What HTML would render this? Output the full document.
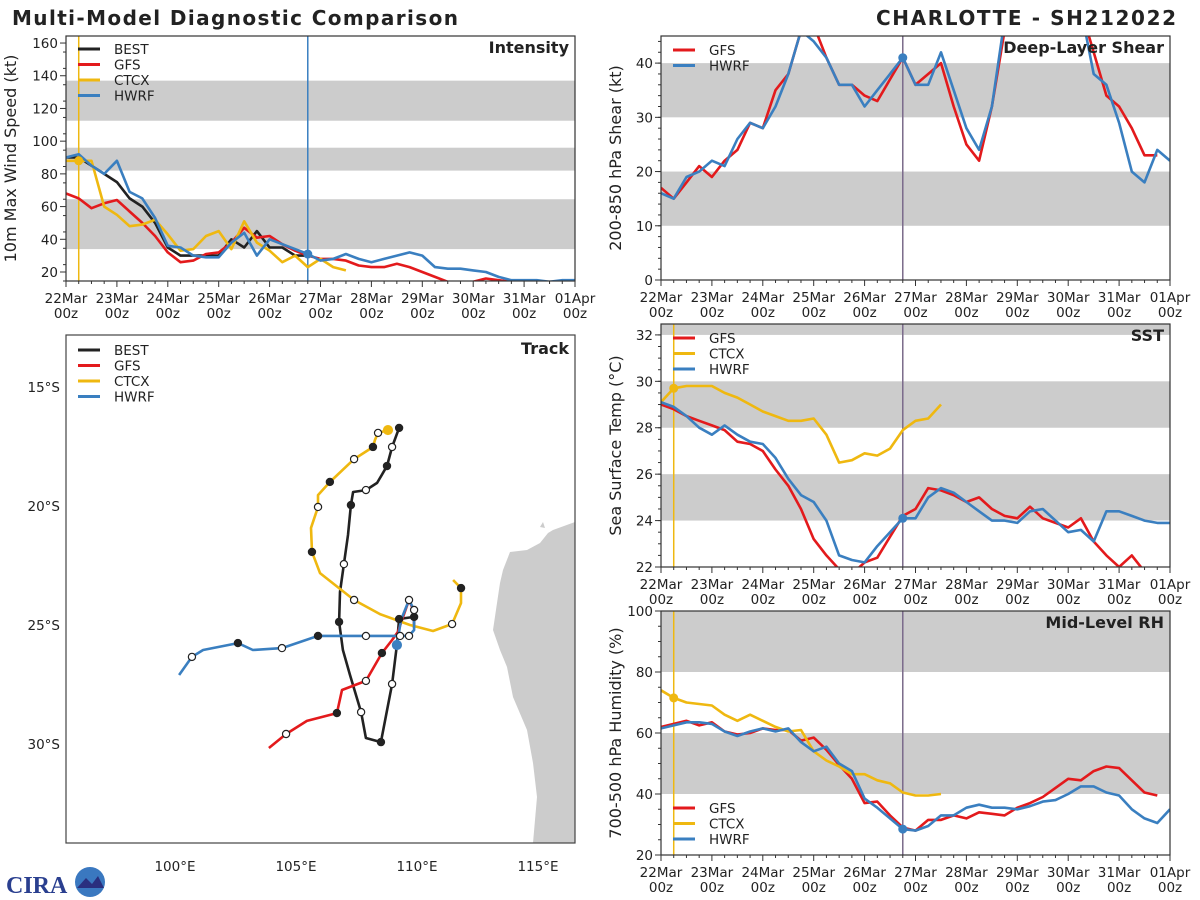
<!DOCTYPE html>
<html><head><meta charset="utf-8"><style>
html,body{margin:0;padding:0;background:#fff;}
svg{display:block;font-family:"DejaVu Sans","Liberation Sans",sans-serif;}
</style></head><body>
<svg id="chart" width="1200" height="900" viewBox="0 0 1200 900" xmlns="http://www.w3.org/2000/svg">
<text x="12" y="25" font-size="20" font-weight="bold" fill="#222" textLength="446">Multi-Model Diagnostic Comparison</text>
<text x="1176" y="25" font-size="20" font-weight="bold" fill="#222" text-anchor="end" textLength="300">CHARLOTTE - SH212022</text>
<g id="logo">
<text x="6" y="893" font-size="24" font-weight="bold" fill="#2a3f8f" font-family="Liberation Serif,serif">CIRA</text>
<circle cx="90" cy="882" r="15" fill="#3a78c0"/><path d="M77 888 L86 878 L92 884 L98 876 L104 888 Z" fill="#2a2f7f"/>
</g>
</svg>
<script>
// ---------- DATA ----------
const dayLabels = ["22Mar","23Mar","24Mar","25Mar","26Mar","27Mar","28Mar","29Mar","30Mar","31Mar","01Apr"];
const intBest = [90,90,85,80,75,65,60,50,35,30,30,30,30,40,35,45,35,35,30,30];
const intGfs = [68,65,59,62,64,57,50,42,32,26,27,31,32,38,47,41,42,37,33,30,28,28,27,24,23,23,25,23,20,17,14,14,14,16,15,14,14,13];
const intCtcx = [88,88,88,60,55,48,49,52,43,33,34,42,45,34,51,38,33,26,30,23,28,23,21];
const intHwrf = [90,92,85,80,88,69,65,53,36,35,30,29,29,38,44,30,40,37,34,31,27,28,31,28,26,28,30,32,30,23,22,22,21,20,17,15,15,15,14,15,15];
const shrGfs = [17,15,18,21,19,22,24,29,28,35,38,46,47,41,36,36,34,33,37,41,36,38,40,32,25,22,32,46,50,50,50,50,50,50,42,34,32,28,23,23];
const shrHwrf = [16,15,19,20,22,21,26,29,28,32,38,46,44,41,36,36,32,35,38,41,36,36,42,35,28,24,32,48,50,50,50,50,50,50,38,36,29,20,18,24,22];
const sstGfs = [29.0,28.8,28.5,28.3,28.1,27.9,27.4,27.3,27.0,26.2,25.5,24.5,23.2,22.5,21.9,21.7,22.2,22.4,23.3,24.2,24.5,25.4,25.3,25.1,24.8,25.0,24.5,24.2,24.1,24.6,24.1,23.9,23.7,24.1,23.1,22.5,22.0,22.5,21.8];
const sstCtcx = [29.1,29.7,29.8,29.8,29.8,29.5,29.3,29.0,28.7,28.5,28.3,28.3,28.4,27.7,26.5,26.6,26.9,26.8,27.1,27.9,28.3,28.4,29.0];
const sstHwrf = [29.1,28.9,28.5,28.0,27.7,28.1,27.7,27.4,27.3,26.7,25.8,25.1,24.8,24.0,22.5,22.3,22.2,22.9,23.5,24.1,24.1,25.0,25.4,25.2,24.8,24.4,24.0,24.0,23.9,24.4,24.5,24.0,23.5,23.6,23.1,24.4,24.4,24.2,24.0,23.9,23.9];
const rhGfs = [62,63,64,62.5,63.5,60.5,59.5,60,61.5,61,61,57.5,58.5,54.5,49.5,45,37,37.5,33,29,28,31.5,31.5,33,32,34,33.5,33,35.5,37,39,42,45,44.5,47.5,49,48.5,44.5,40.5,39.5];
const rhCtcx = [74,71.5,70,69.5,69,66,64,66,64,62,60.5,61,54,51,49,46.5,46.5,44.5,43.5,40.5,39.5,39.5,40];
const rhHwrf = [61.5,62.5,63.5,63.5,63,60.5,59,60.5,61.5,60.5,61.5,57,54,55.5,50,47.5,38.5,35.5,32,28.5,28,29.5,33,33,35.5,36.5,35.5,35.5,35,36,37.5,38,40,42.5,42.5,40.5,39.5,35,32,30.5,35];
// track (lon E, lat negative = S); marker: 0 none, 1 filled, 2 open
const bestLon = [109.26,108.97,108.76,108.35,107.89,107.36,107.27,107.15,106.98,106.82,106.78,106.94,107.23,107.69,107.89,108.51,108.97,109.17,109.26,109.88,109.88];
const bestLat = [-16.72,-17.52,-18.32,-19.03,-19.33,-19.41,-19.96,-21.22,-22.44,-23.61,-24.87,-26.05,-27.10,-28.66,-29.75,-29.92,-27.48,-25.84,-24.75,-24.66,-25.13];
const bestMk = [1,2,1,0,2,0,1,0,2,0,1,0,0,2,0,1,2,0,1,1,0];
const gfsLon = [109.88,109.88,109.67,109.38,109.21,108.97,108.55,107.89,106.90,106.69,105.45,104.59,103.88];
const gfsLat = [-25.00,-24.45,-23.95,-24.79,-25.29,-25.63,-26.18,-27.35,-27.73,-28.70,-29.03,-29.58,-30.17];
const gfsMk = [0,0,0,0,0,0,1,2,0,1,0,2,0];
const ctcxLon = [108.80,108.39,108.26,108.18,107.40,106.40,105.91,105.91,105.62,105.66,105.99,107.40,108.47,109.71,110.66,111.45,111.82,111.82,111.49];
const ctcxLat = [-16.81,-16.93,-17.23,-17.52,-18.03,-18.99,-19.54,-20.04,-20.92,-21.93,-22.82,-23.95,-24.54,-25.00,-25.25,-24.96,-24.08,-23.45,-23.11];
const ctcxMk = [3,2,0,1,2,1,0,2,0,1,0,2,0,0,0,2,0,1,0];
const hwrfLon = [109.17,109.34,109.67,109.88,109.88,109.67,109.30,108.51,107.89,105.91,104.42,103.22,102.60,101.16,100.70,100.17];
const hwrfLat = [-25.84,-24.79,-23.95,-24.37,-25.21,-25.46,-25.46,-25.46,-25.46,-25.46,-25.97,-26.05,-25.76,-26.05,-26.34,-27.10];
const hwrfMk = [4,0,2,2,0,2,2,0,2,1,2,0,1,0,2,0];
const lonTicks = [100,105,110,115];
const latTicks = [-15,-20,-25,-30];

// ---------- DRAW ----------
const NS='http://www.w3.org/2000/svg';
const svg=document.getElementById('chart');
const C={black:'#222222',red:'#e31a1c',yellow:'#efb810',blue:'#3a7fc0',gray:'#cccccc',vline:'#7a6a8a'};
function mk(tag,attrs,parent){const e=document.createElementNS(NS,tag);for(const k in attrs)e.setAttribute(k,attrs[k]);(parent||svg).appendChild(e);return e;}

let clipN=0;
function panel(o){
  const g=mk('g',{});
  
  
  const xs=t=>o.x0+(o.x1-o.x0)*t/10;
  const ys=v=>o.y1-(o.y1-o.y0)*(v-o.vmin)/(o.vmax-o.vmin);
  const cid='clip'+(clipN++);
  const cp=mk('clipPath',{id:cid},g);mk('rect',{x:o.x0,y:o.y0,width:o.x1-o.x0,height:o.y1-o.y0},cp);
  const inner=mk('g',{'clip-path':'url(#'+cid+')'},g);
  o.bands.forEach(b=>{const r=mk('rect',{x:o.x0,y:ys(b[1]),width:o.x1-o.x0,height:ys(b[0])-ys(b[1]),fill:C.gray},inner);
    
    });
  o.vlines.forEach(v=>{mk('line',{x1:xs(v[0]),x2:xs(v[0]),y1:o.y0,y2:o.y1,stroke:v[1],'stroke-width':1.5},inner);});
  o.series.forEach(s=>{
    const pts=s.v.map((v,i)=>xs(i*0.25).toFixed(1)+','+ys(v).toFixed(1)).join(' ');
    const pl=mk('polyline',{points:pts,fill:'none',stroke:s.c,'stroke-width':2.6,'stroke-linejoin':'round'},inner);
    
    
  });
  o.dots.forEach(d=>{const s=d[0];mk('circle',{cx:xs(d[1]),cy:ys(s.v[Math.round(d[1]/0.25)]),r:4.5,fill:s.c},inner);});
  // frame
  const fr=mk('rect',{x:o.x0,y:o.y0,width:o.x1-o.x0,height:o.y1-o.y0,fill:'none',stroke:'#333','stroke-width':1.2},g);
  
  
  // y ticks
  for(let v=o.vmin;v<=o.vmax+1e-6;v+=o.minor){const y=ys(v);mk('line',{x1:o.x0-3,x2:o.x0,y1:y,y2:y,stroke:'#333','stroke-width':1},g);}
  o.yt.forEach(v=>{const y=ys(v);mk('line',{x1:o.x0-6,x2:o.x0,y1:y,y2:y,stroke:'#333','stroke-width':1},g);
    const t=mk('text',{x:o.x0-8,y:y+5,'font-size':13.5,'text-anchor':'end',fill:'#222'},g);t.textContent=v;
    
    });
  // x ticks
  dayLabels.forEach((l,i)=>{const x=xs(i);mk('line',{x1:x,x2:x,y1:o.y1,y2:o.y1+6,stroke:'#333','stroke-width':1},g);
    for(let k=1;k<4&&i<10;k++){const xm=xs(i+k*0.25);mk('line',{x1:xm,x2:xm,y1:o.y1,y2:o.y1+3,stroke:'#333','stroke-width':1},g);}
    const t=mk('text',{x:x,y:o.y1+22,'font-size':13.5,'text-anchor':'middle',fill:'#222'},g);t.textContent=l;
    
    
    const t2=mk('text',{x:x,y:o.y1+37,'font-size':13.5,'text-anchor':'middle',fill:'#222'},g);t2.textContent='00z';
    
    });
  // y label
  const cy=(o.y0+o.y1)/2;
  const yl=mk('text',{x:o.ylx,y:cy,'font-size':16,'text-anchor':'middle',fill:'#222',transform:`rotate(-90 ${o.ylx} ${cy})`},g);yl.textContent=o.ylabel;
  
  
  const ti=mk('text',{x:o.x1-6,y:o.y0+17,'font-size':16,'font-weight':'bold','text-anchor':'end',fill:'#222'},g);ti.textContent=o.title;
  
  
  legend(g,o.x0+12,o.legY,o.series);
}
function legend(g,x,y,series){
  series.forEach((s,i)=>{const yy=y+i*15.5;
    const l=mk('line',{x1:x,x2:x+22,y1:yy,y2:yy,stroke:s.c,'stroke-width':3},g);
    
    
    const t=mk('text',{x:x+36,y:yy+5,'font-size':13.5,fill:'#222'},g);t.textContent=s.n.toUpperCase();
    
    });
}
const S=(n,v,c)=>({n:n,v:v,c:c});
const iB=S('best',intBest,C.black),iG=S('gfs',intGfs,C.red),iC=S('ctcx',intCtcx,C.yellow),iH=S('hwrf',intHwrf,C.blue);
panel({name:'intensity-panel',x0:66,x1:575,y0:36,y1:281,vmin:14.5,vmax:164.3,minor:10,yt:[20,40,60,80,100,120,140,160],
  bands:[[34,64.5],[82,96],[112.5,137]],vlines:[[0.25,C.yellow],[4.75,C.blue]],series:[iB,iG,iC,iH],dots:[[iC,0.25],[iH,4.75]],
  ylabel:'10m Max Wind Speed (kt)',ylx:16,title:'Intensity',legY:49});
const sG=S('gfs',shrGfs,C.red),sH=S('hwrf',shrHwrf,C.blue);
panel({name:'shear-panel',x0:661,x1:1170,y0:36,y1:280,vmin:0,vmax:45,minor:2,yt:[0,10,20,30,40],
  bands:[[10,20],[30,40]],vlines:[[4.75,C.vline]],series:[sG,sH],dots:[[sH,4.75]],
  ylabel:'200-850 hPa Shear (kt)',ylx:621,title:'Deep-Layer Shear',legY:50});
const tG=S('gfs',sstGfs,C.red),tC=S('ctcx',sstCtcx,C.yellow),tH=S('hwrf',sstHwrf,C.blue);
panel({name:'sst-panel',x0:661,x1:1170,y0:324,y1:567,vmin:22,vmax:32.47,minor:0.5,yt:[22,24,26,28,30,32],
  bands:[[24,26],[28,30],[32,34]],vlines:[[0.25,C.yellow],[4.75,C.vline]],series:[tG,tC,tH],dots:[[tC,0.25],[tH,4.75]],
  ylabel:'Sea Surface Temp (°C)',ylx:621,title:'SST',legY:338});
const rG=S('gfs',rhGfs,C.red),rC=S('ctcx',rhCtcx,C.yellow),rH=S('hwrf',rhHwrf,C.blue);
panel({name:'rh-panel',x0:661,x1:1170,y0:611,y1:855,vmin:20,vmax:100,minor:5,yt:[20,40,60,80,100],
  bands:[[40,60],[80,100]],vlines:[[0.25,C.yellow],[4.75,C.vline]],series:[rG,rC,rH],dots:[[rC,0.25],[rH,4.75]],
  ylabel:'700-500 hPa Humidity (%)',ylx:621,title:'Mid-Level RH',legY:808});

// track panel
(function(){
  const g=mk('g',{});
  
  
  const X0=66,X1=575,Y0=335,Y1=843;
  const lx=lon=>175+(lon-100)*24.2, ly=lat=>387+(-lat-15)*23.8;
  const cp=mk('clipPath',{id:'trk'},g);mk('rect',{x:X0,y:Y0,width:X1-X0,height:Y1-Y0},cp);
  const inner=mk('g',{'clip-path':'url(#trk)'},g);
  const land=mk('path',{d:'M575,522 L553,530 L548,533 L540,543 L527,550 L510,552 L503,570 L500,583 L497,603 L493,630 L500,650 L507,667 L513,697 L527,730 L533,763 L537,797 L533,843 L575,843 Z M540,527 L543,522 L545,528 Z',fill:C.gray},inner);
  
  
  const tr=[['best',bestLon,bestLat,bestMk,C.black],['gfs',gfsLon,gfsLat,gfsMk,C.red],['ctcx',ctcxLon,ctcxLat,ctcxMk,C.yellow],['hwrf',hwrfLon,hwrfLat,hwrfMk,C.blue]];
  tr.forEach(s=>{
    const pts=s[1].map((lo,i)=>lx(lo).toFixed(1)+','+ly(s[2][i]).toFixed(1)).join(' ');
    const pl=mk('polyline',{points:pts,fill:'none',stroke:s[4],'stroke-width':2.6,'stroke-linejoin':'round'},inner);
    
    
  });
  tr.forEach(s=>{s[3].forEach((m,i)=>{if(!m)return;const cx=lx(s[1][i]),cy=ly(s[2][i]);
    let a;
    if(m===1)a={fill:C.black,stroke:C.black};
    else if(m===2)a={fill:'#fff',stroke:C.black};
    else a={fill:s[4],stroke:s[4]};
    const c=mk('circle',{cx:cx,cy:cy,r:m>2?4.5:3.6,fill:a.fill,stroke:a.stroke,'stroke-width':1.2},inner);
    
    });});
  mk('rect',{x:X0,y:Y0,width:X1-X0,height:Y1-Y0,fill:'none',stroke:'#444','stroke-width':1.2},g);
  lonTicks.forEach(v=>{const t=mk('text',{x:lx(v),y:871,'font-size':13.5,'text-anchor':'middle',fill:'#222'},g);t.textContent=v+'°E';
    
    });
  latTicks.forEach(v=>{const t=mk('text',{x:60,y:ly(v)+5,'font-size':13.5,'text-anchor':'end',fill:'#222'},g);t.textContent=(-v)+'°S';
    
    });
  const ti=mk('text',{x:X1-6,y:Y0+19,'font-size':16,'font-weight':'bold','text-anchor':'end',fill:'#222'},g);ti.textContent='Track';
  
  
  legend(g,78,350,[S('best',[],C.black),S('gfs',[],C.red),S('ctcx',[],C.yellow),S('hwrf',[],C.blue)]);
})();
</script>
</body></html>
